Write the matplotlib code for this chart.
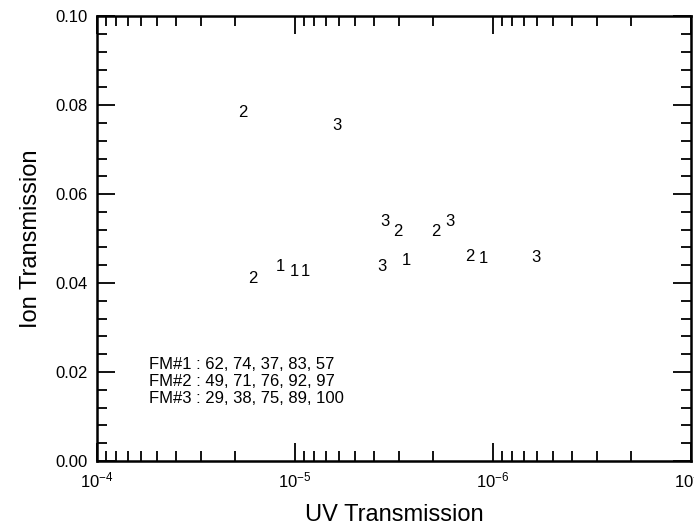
import matplotlib
matplotlib.use('Agg')
import matplotlib.pyplot as plt
from matplotlib.ticker import LogLocator, MultipleLocator, NullFormatter

plt.rcParams['font.family'] = ['Liberation Sans', 'DejaVu Sans']

# UV transmission (x) and ion transmission (y) for each FM configuration
fm1_uv = [1.19e-5, 1.01e-5, 8.9e-6, 2.75e-6, 1.12e-6]
fm1_ion = [0.0437, 0.0426, 0.0426, 0.0450, 0.0455]
fm2_uv = [1.83e-5, 1.64e-5, 3.01e-6, 1.94e-6, 1.31e-6]
fm2_ion = [0.0783, 0.0410, 0.0515, 0.0517, 0.0460]
fm3_uv = [6.14e-6, 3.51e-6, 3.65e-6, 1.65e-6, 6.07e-7]
fm3_ion = [0.0754, 0.0538, 0.0437, 0.0539, 0.0458]
series = [('1', fm1_uv, fm1_ion), ('2', fm2_uv, fm2_ion), ('3', fm3_uv, fm3_ion)]

note_lines = ['FM#1 : 62, 74, 37, 83, 57',
              'FM#2 : 49, 71, 76, 92, 97',
              'FM#3 : 29, 38, 75, 89, 100']

fig = plt.figure(figsize=(6.94, 5.32), dpi=100)
ax = fig.add_axes([0.1398, 0.1335, 0.856, 0.836])

ax.set_xscale('log')
ax.set_xlim(1e-4, 1e-7)
ax.set_ylim(0, 0.10)

for label, xs, ys in series:
    for x, y in zip(xs, ys):
        ax.text(x, y, label, ha='center', va='center', fontsize=12)

ax.text(0.088, 0.234, '\n'.join(note_lines), transform=ax.transAxes,
        fontsize=12, va='top', ha='left', linespacing=1.15)

ax.yaxis.set_major_locator(MultipleLocator(0.02))
ax.yaxis.set_minor_locator(MultipleLocator(0.004))
ax.yaxis.set_major_formatter(plt.FuncFormatter(lambda v, p: '%.2f' % v))
ax.xaxis.set_major_locator(LogLocator(base=10, numticks=10))
ax.xaxis.set_minor_locator(LogLocator(base=10, subs=range(2, 10), numticks=20))
ax.xaxis.set_minor_formatter(NullFormatter())

ax.tick_params(which='both', direction='in', top=True, right=True, width=1.3)
ax.tick_params(which='major', length=13, labelsize=12, pad=7)
ax.tick_params(which='minor', length=7)
for s in ax.spines.values():
    s.set_linewidth(1.8)

ax.set_xlabel('UV Transmission', fontsize=17, labelpad=10)
ax.set_ylabel('Ion Transmission', fontsize=17, labelpad=9)

fig.savefig('out.png', dpi=100)
